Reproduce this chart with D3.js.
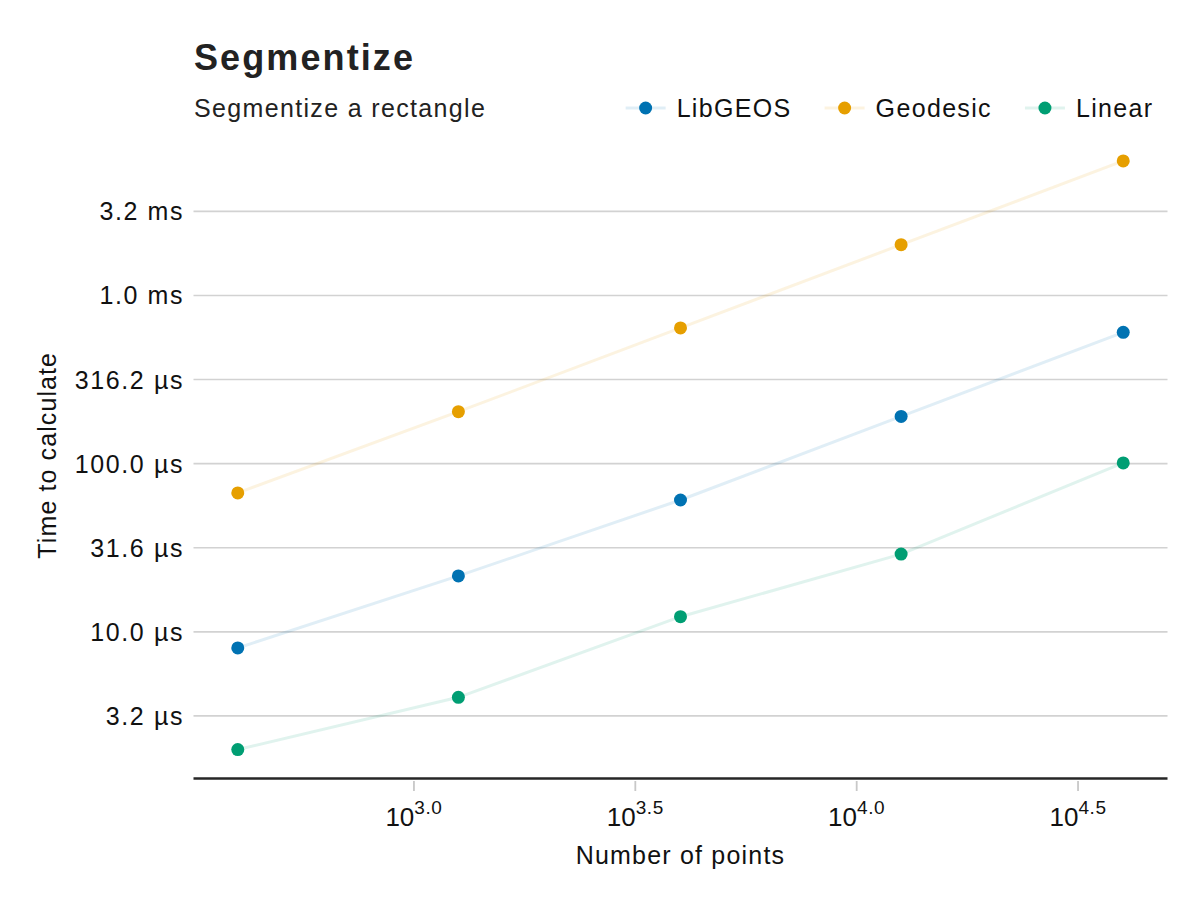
<!DOCTYPE html>
<html>
<head>
<meta charset="utf-8">
<script src="https://cdn.jsdelivr.net/npm/d3@7"></script>
<style>
    html, body { margin: 0; padding: 0; background: #fff; }
    text { font-family: "Liberation Sans", Arial, sans-serif; }
</style>
</head>
<body>
<div id="chart"></div>
<script>
// --- Data ---
const nPoints = [400, 1260, 4000, 12600, 40000];
const seriesNames = ["LibGEOS", "Geodesic", "Linear"];
const libgeosTimes = [8.02e-6, 21.5e-6, 60.8e-6, 191e-6, 604e-6];
const geodesicTimes = [67.0e-6, 203.7e-6, 641e-6, 2.005e-3, 6.31e-3];
const linearTimes = [1.995e-6, 4.08e-6, 12.3e-6, 29.0e-6, 101e-6];
const xTickExps = [3.0, 3.5, 4.0, 4.5];
const yTickExps = [-5.5, -5.0, -4.5, -4.0, -3.5, -3.0, -2.5];

const colors = ["#0072B2", "#E69F00", "#009E73"];
const series = [libgeosTimes, geodesicTimes, linearTimes].map((vals, i) => ({
    name: seriesNames[i],
    color: colors[i],
    values: vals.map((t, j) => ({ n: nPoints[j], t: t }))
}));

const W = 1200, H = 900;
const plot = { left: 193.5, right: 1167.5, top: 131.5, bottom: 779 };

const svg = d3.select("#chart").append("svg")
    .attr("width", W)
    .attr("height", H);

// log-space padding of 5% like the source plot's auto limits
function paddedLogDomain(vals) {
    const [lo, hi] = d3.extent(vals.map(Math.log10));
    const pad = (hi - lo) * 0.05;
    return [Math.pow(10, lo - pad), Math.pow(10, hi + pad)];
}

const allTimes = libgeosTimes.concat(geodesicTimes, linearTimes);

const x = d3.scaleLog()
    .domain(paddedLogDomain(nPoints))
    .range([plot.left, plot.right]);

const y = d3.scaleLog()
    .domain(paddedLogDomain(allTimes))
    .range([plot.bottom, plot.top]);

function formatTime(v) {
    if (v >= 1e-3) return (v * 1e3).toFixed(1) + " ms";
    return (v * 1e6).toFixed(1) + " µs";
}

// Gridlines
svg.append("g")
    .selectAll("line")
    .data(yTickExps)
    .join("line")
    .attr("x1", plot.left)
    .attr("x2", plot.right)
    .attr("y1", d => y(Math.pow(10, d)))
    .attr("y2", d => y(Math.pow(10, d)))
    .attr("stroke", "#d2d2d2")
    .attr("stroke-width", 1.6);

// Y tick labels
svg.append("g")
    .selectAll("text")
    .data(yTickExps)
    .join("text")
    .attr("x", 184)
    .attr("y", d => y(Math.pow(10, d)))
    .attr("dy", "0.36em")
    .attr("text-anchor", "end")
    .attr("font-size", 25)
    .attr("letter-spacing", 1.6)
    .attr("fill", "#111")
    .text(d => formatTime(Math.pow(10, d)));

// X axis line and ticks
svg.append("line")
    .attr("x1", plot.left)
    .attr("x2", plot.right)
    .attr("y1", plot.bottom - 0.5)
    .attr("y2", plot.bottom - 0.5)
    .attr("stroke", "#262626")
    .attr("stroke-width", 2.4);

const xt = svg.append("g")
    .selectAll("g")
    .data(xTickExps)
    .join("g")
    .attr("transform", d => `translate(${x(Math.pow(10, d))},0)`);

xt.append("line")
    .attr("y1", plot.bottom + 2)
    .attr("y2", plot.bottom + 12)
    .attr("stroke", "#c8c8c8")
    .attr("stroke-width", 1.8);

const xl = xt.append("text")
    .attr("y", 825.5)
    .attr("text-anchor", "middle")
    .attr("font-size", 26)
    .attr("fill", "#111");
xl.append("tspan").text("10");
xl.append("tspan")
    .attr("font-size", 19)
    .attr("dy", -12)
    .attr("letter-spacing", 0.6)
    .text(d => d.toFixed(1));

// Axis labels
svg.append("text")
    .attr("x", (plot.left + plot.right) / 2)
    .attr("y", 864)
    .attr("text-anchor", "middle")
    .attr("font-size", 25)
    .attr("letter-spacing", 1.2)
    .attr("fill", "#111")
    .text("Number of points");

svg.append("text")
    .attr("transform", `translate(56,${(plot.top + plot.bottom) / 2}) rotate(-90)`)
    .attr("text-anchor", "middle")
    .attr("font-size", 25)
    .attr("letter-spacing", 1.1)
    .attr("fill", "#111")
    .text("Time to calculate");

// Title and subtitle
svg.append("text")
    .attr("x", 194)
    .attr("y", 70)
    .attr("font-size", 36)
    .attr("font-weight", "bold")
    .attr("letter-spacing", 2.1)
    .attr("fill", "#222")
    .text("Segmentize");

svg.append("text")
    .attr("x", 194)
    .attr("y", 117)
    .attr("font-size", 25)
    .attr("letter-spacing", 1.34)
    .attr("fill", "#222")
    .text("Segmentize a rectangle");

// Series lines and points
const line = d3.line()
    .x(d => x(d.n))
    .y(d => y(d.t));

svg.append("g")
    .selectAll("path")
    .data(series)
    .join("path")
    .attr("d", d => line(d.values))
    .attr("fill", "none")
    .attr("stroke", d => d.color)
    .attr("stroke-opacity", 0.12)
    .attr("stroke-width", 3);

svg.append("g")
    .selectAll("g")
    .data(series)
    .join("g")
    .attr("fill", d => d.color)
    .selectAll("circle")
    .data(d => d.values)
    .join("circle")
    .attr("cx", d => x(d.n))
    .attr("cy", d => y(d.t))
    .attr("r", 6.5);

// Legend, laid out right to left from the plot edge
const legend = svg.append("g");
const legendY = 108;
let cursor = plot.right - 14;
const items = series.slice().reverse();
items.forEach(s => {
    const g = legend.append("g");
    const label = g.append("text")
        .attr("y", legendY)
        .attr("dy", "0.36em")
        .attr("font-size", 25)
        .attr("letter-spacing", 1.34)
        .attr("fill", "#111")
        .text(s.name);
    const tw = label.node().getComputedTextLength();
    const textX = cursor - tw;
    label.attr("x", textX);
    const patchRight = textX - 11;
    g.append("line")
        .attr("x1", patchRight - 40)
        .attr("x2", patchRight)
        .attr("y1", legendY)
        .attr("y2", legendY)
        .attr("stroke", s.color)
        .attr("stroke-opacity", 0.12)
        .attr("stroke-width", 3);
    g.append("circle")
        .attr("cx", patchRight - 20)
        .attr("cy", legendY)
        .attr("r", 6.5)
        .attr("fill", s.color);
    cursor = patchRight - 40 - 33;
});
</script>
</body>
</html>
